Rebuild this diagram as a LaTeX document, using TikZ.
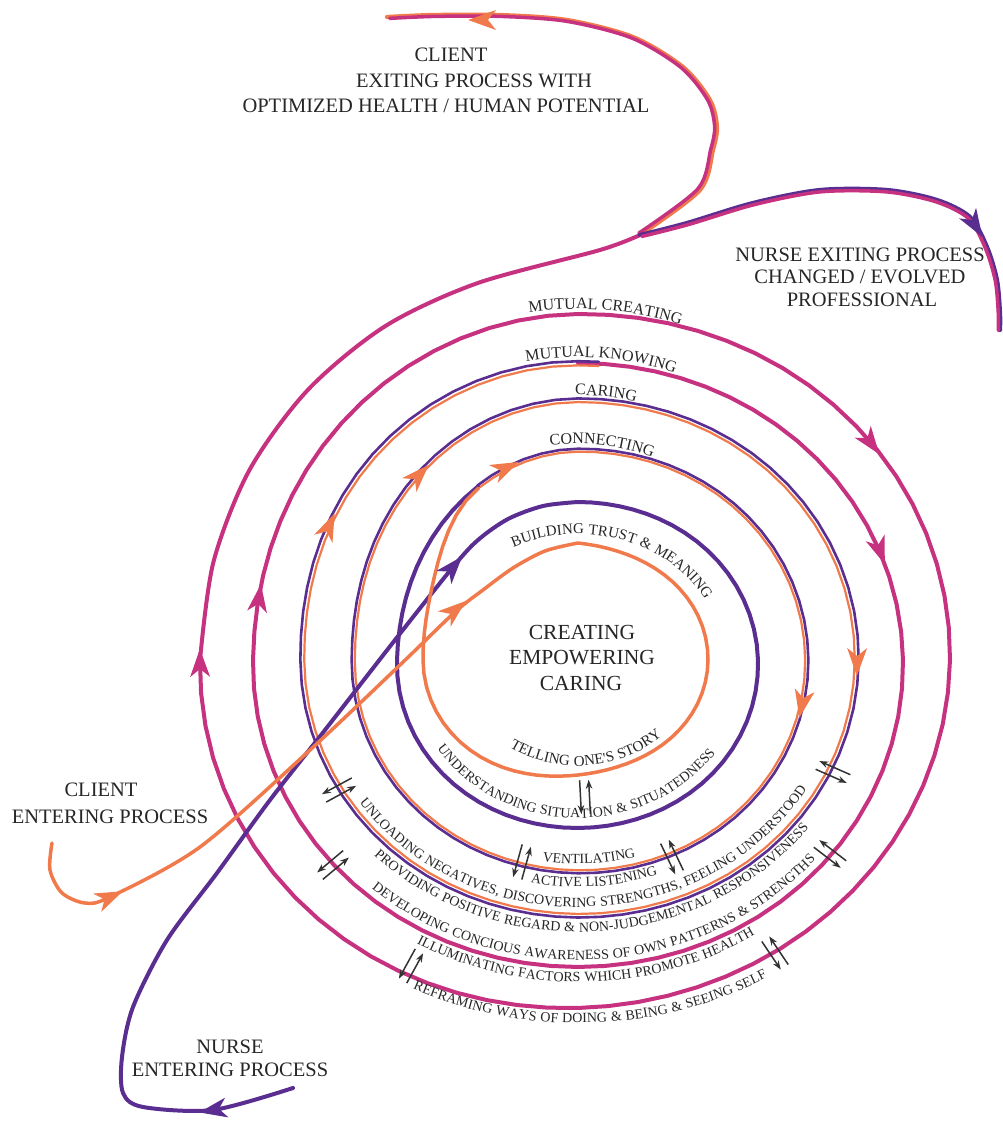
\documentclass[tikz,border=0pt]{standalone}
\usepackage{fontspec}
\setmainfont{Liberation Serif}
\newfontfamily\lsserif[LetterSpace=4]{Liberation Serif}
\usetikzlibrary{decorations.text,arrows.meta}
\definecolor{orng}{HTML}{F07A4B}
\definecolor{purp}{HTML}{5A2D91}
\definecolor{magn}{HTML}{C63280}
\definecolor{txtc}{HTML}{262626}
\definecolor{pairc}{HTML}{333333}
\newcommand{\toplab}{\fontsize{16}{16}\selectfont}
\newcommand{\botlab}{\lsserif\fontsize{14}{14}\selectfont}
\newcommand{\midlab}{\lsserif\fontsize{15}{15}\selectfont}
\newcommand{\myarrowhead}[4]{\fill[#1,shift={(#2,#3)},rotate=#4] (14,0) -- (-14,10) -- (-6,0) -- (-14,-10) -- cycle;}
\newcommand{\mypairarrows}[3]{\begin{scope}[shift={(#1,#2)},rotate=#3]\draw[pairline] (-17,-4.5) -- (17,-4.5);\draw[pairline] (17,4.5) -- (-17,4.5);\end{scope}}
\newcommand{\doubletrack}[1]{\draw[#1] plot[domain=-240:-270,samples=7] (\x:{mainT(\x)}) -- plot[domain=-270:-540,samples=55] (\x:{rC(\x)}) -- plot[domain=-540:-630,samples=19] (\x:{rC(\x)+(rD(\x)-rC(\x))*sst((-540-\x)/90)}) -- plot[domain=-630:-900,samples=55] (\x:{rD(\x)}) -- plot[domain=-900:-990,samples=19] (\x:{rD(\x)+(rE(\x)-rD(\x))*sst((-900-\x)/90)}) -- plot[domain=-990:-994,samples=2] (\x:{rE(\x)});}
\newcommand{\clientexit}[1]{\draw[#1] plot[smooth] coordinates {(62,425) (122,470) (135,510) (139,533) (132,560) (105,593) (55,623) (-11,640) (-78,645) (-145,645) (-191,643)};}
\newcommand{\nurseexit}[1]{\draw[#1] plot[smooth] coordinates {(62,425) (109,437) (175,457) (242,470) (309,470) (359,460) (392,443) (409,413) (419,380) (422,347) (422,330)};}
\tikzset{
 pairline/.style={draw=pairc,line width=1.5pt,-{Stealth[length=9pt,width=6.5pt]}},
 magl/.style={draw=magn,line width=4pt,line cap=round,line join=round},
 purl/.style={draw=purp,line width=4pt,line cap=round,line join=round},
 orl/.style={draw=orng,line width=3.5pt,line cap=round,line join=round},
 purthin/.style={draw=purp,line width=2.6pt,line cap=round,line join=round},
 orthin/.style={draw=orng,line width=2.2pt,line cap=round,line join=round},
 bigtxt/.style={font=\fontsize{20.5}{24}\selectfont,text=txtc,inner sep=0pt},
 coretxt/.style={font=\fontsize{21.5}{26}\selectfont,text=txtc,inner sep=0pt},
 toptext/.style={decorate,decoration={text along path,text align=center,text color=txtc,text={|\toplab|#1}}},
 bottext/.style={decorate,decoration={text along path,text align=center,text color=txtc,text={|\botlab|#1}}},
 midtext/.style={decorate,decoration={text along path,text align=center,text color=txtc,text={|\midlab|#1}}}
}
\begin{document}
\begin{tikzpicture}[x=1pt,y=1pt,
 declare function={
  rA(\x)=129.25-12.5*cos(\x)+sin(\x)+13.25*cos(2*\x);
  rB(\x)=171.75-0.5*cos(\x)-5*sin(\x)+8.75*cos(2*\x);
  rC(\x)=219+2*cos(\x)-sin(\x)+8*cos(2*\x);
  rD(\x)=267.75+1.5*cos(\x)+2*sin(\x)+9.75*cos(2*\x);
  rE(\x)=313.5-5*sin(\x)+11.5*cos(2*\x);
  rF(\x)=361-3*cos(\x)-sin(\x)+14*cos(2*\x)+3*sin(2*\x);
  sst(\x)=(3-2*\x)*\x*\x;
  mainT(\x)=rB(\x)+(rC(\x)-rB(\x))*sst((-180-\x)/90);
 }]
\useasboundingbox (0,0) rectangle (1002,1121);
\fill[white] (0,0) rectangle (1002,1121);
\begin{scope}[shift={(578,461)}]
% outer magenta spiral (mutual knowing / mutual creating / exit)
\draw[magl] plot[domain=-990:-1260,samples=55] (\x:{rE(\x)}) -- plot[domain=-1260:-1350,samples=19] (\x:{rE(\x)+(rF(\x)-rE(\x))*sst((-1260-\x)/90)}) -- plot[domain=-1350:-1620,samples=55] (\x:{rF(\x)}) -- plot[smooth] coordinates {(180:378) (165:377.5) (150:379.5) (135:382) (120:385.5) (105:390) (22,410) (62,425)};
% client exit (orange outer, magenta inner)
\clientexit{draw=orng,line width=4.2pt,line cap=round}
\begin{scope}[shift={(-18,550)},scale=0.985,shift={(18,-550)}]
\clientexit{draw=magn,line width=3.5pt,line cap=round}
\end{scope}
% nurse exit (purple outer, magenta inner)
\nurseexit{draw=purp,line width=4.2pt,line cap=round}
\begin{scope}[shift={(252,280)},scale=0.99,shift={(-252,-280)}]
\nurseexit{draw=magn,line width=3.5pt,line cap=round}
\end{scope}
% double purple / orange rings
\begin{scope}[scale=1.006]\doubletrack{purthin}\end{scope}
\begin{scope}[scale=0.992]\doubletrack{orthin}\end{scope}
% nurse entering + building trust ring
\draw[purl] plot[smooth] coordinates {(-285,-428) (-365,-450) (-435,-447) (-455,-433) (-456,-397) (-445,-347) (-411,-280) (-361,-213) (-308,-140) (-253,-70) (-183,20) (-125,93) (-100,120) (-70,141) (-35,154) (0,158)} -- plot[domain=90:-180,samples=55] (\x:{rB(\x)}) -- plot[domain=-180:-240,samples=13] (\x:{mainT(\x)});
% client entering + telling story ring
\draw[orl] plot[smooth] coordinates {(-526,-183) (-528,-210) (-516,-233) (-493,-243) (-468,-237) (-378,-187) (-268,-90) (-178,-5) (-123,48) (-95,70) (-65,92) (-33,109) (0,117)} -- plot[domain=90:-180,samples=55] (\x:{rA(\x)}) -- plot[domain=-180:-240,samples=13] (\x:{rA(\x)+(0.992*mainT(\x)-rA(\x))*sst((-180-\x)/60)});
% arrowheads
\myarrowhead{magn}{293}{217}{-53.5}
\myarrowhead{magn}{302}{109}{-70}
\myarrowhead{magn}{-378}{-3}{90.5}
\myarrowhead{magn}{-319}{62}{82}
\myarrowhead{orng}{-249}{134}{66}
\myarrowhead{orng}{-159}{185}{46}
\myarrowhead{orng}{-72}{192}{25.5}
\myarrowhead{orng}{279}{-2}{-90.5}
\myarrowhead{orng}{224}{-44}{-101}
\myarrowhead{purp}{-125}{93}{49}
\myarrowhead{orng}{-123}{50}{40}
\myarrowhead{orng}{-468}{-237}{24}
\myarrowhead{purp}{-365}{-450}{190}
\myarrowhead{purp}{397}{435}{-58}
\myarrowhead{orng}{-96}{640}{180}
% paired small arrows
\mypairarrows{-239}{-130}{208.5}
\mypairarrows{-245}{-205}{220}
\mypairarrows{7}{-137}{-87}
\mypairarrows{-56}{-202}{-105.5}
\mypairarrows{94}{-197}{-64.5}
\mypairarrows{255}{-112}{-23.7}
\mypairarrows{252}{-194}{-37.5}
\mypairarrows{-167}{-306}{-118.7}
\mypairarrows{197}{-293}{-56}
% ring labels (top)
\path[toptext={MUTUAL CREATING}] (105:351pt) arc[start angle=105,end angle=66,radius=351pt];
\path[toptext={MUTUAL KNOWING}] (106:303pt) arc[start angle=106,end angle=65.2,radius=303pt];
\path[toptext={CARING}] (99:265pt) arc[start angle=99,end angle=69,radius=265pt];
\path[toptext={CONNECTING}] (104:216pt) arc[start angle=104,end angle=63.2,radius=216pt];
\path[midtext={BUILDING TRUST {\&} MEANING}] (132:145pt and 126pt) arc[start angle=132,end angle=12,x radius=145pt,y radius=126pt];
% ring labels (bottom)
\path[midtext={TELLING ONE'S STORY}] (-140:120pt and 106pt) arc[start angle=-140,end angle=-30,x radius=120pt,y radius=106pt];
\path[bottext={UNDERSTANDING SITUATION {\&} SITUATEDNESS}] (-155:170pt and 158pt) arc[start angle=-155,end angle=-27,x radius=170pt,y radius=158pt];
\path[bottext={VENTILATING}] (-110:219pt and 204pt) arc[start angle=-110,end angle=-64,x radius=219pt,y radius=204pt];
\path[bottext={ACTIVE LISTENING}] (-112:242pt and 227pt) arc[start angle=-112,end angle=-60,x radius=242pt,y radius=227pt];
\path[bottext={UNLOADING NEGATIVES, DISCOVERING STRENGTHS, FEELING UNDERSTOOD}] (-160:268pt and 247pt) arc[start angle=-160,end angle=-16,x radius=268pt,y radius=247pt];
\path[bottext={PROVIDING POSITIVE REGARD {\&} NON-JUDGEMENTAL RESPONSIVENESS}] (-145:293pt and 272pt) arc[start angle=-145,end angle=-27,x radius=293pt,y radius=272pt];
\path[bottext={DEVELOPING CONCIOUS AWARENESS OF OWN PATTERNS {\&} STRENGTHS}] (-145:318pt and 300pt) arc[start angle=-145,end angle=-27,x radius=318pt,y radius=300pt];
\path[bottext={ILLUMINATING FACTORS WHICH PROMOTE HEALTH}] (-125:340pt and 322pt) arc[start angle=-125,end angle=-52,x radius=340pt,y radius=322pt];
\path[bottext={REFRAMING WAYS OF DOING {\&} BEING {\&} SEEING SELF}] (-122:390pt and 363pt) arc[start angle=-122,end angle=-54,x radius=390pt,y radius=363pt];
% free labels
\node[coretxt] (core1) at (4,28) {CREATING};
\node[coretxt] (core2) at (4,2) {EMPOWERING};
\node[coretxt] (core3) at (3,-23) {CARING};
\node[bigtxt] (cx1) at (-127,605) {CLIENT};
\node[bigtxt] (cx2) at (-104,579) {EXITING PROCESS WITH};
\node[bigtxt] (cx3) at (-132,554) {OPTIMIZED HEALTH / HUMAN POTENTIAL};
\node[bigtxt] (nx1) at (282,405) {NURSE EXITING PROCESS};
\node[bigtxt] (nx2) at (282,383) {CHANGED / EVOLVED};
\node[bigtxt] (nx3) at (284,360) {PROFESSIONAL};
\node[bigtxt] (ce1) at (-477,-130) {CLIENT};
\node[bigtxt] (ce2) at (-468,-157) {ENTERING PROCESS};
\node[bigtxt] (ne1) at (-348,-387) {NURSE};
\node[bigtxt] (ne2) at (-348,-410) {ENTERING PROCESS};
\end{scope}
\end{tikzpicture}
\end{document}
